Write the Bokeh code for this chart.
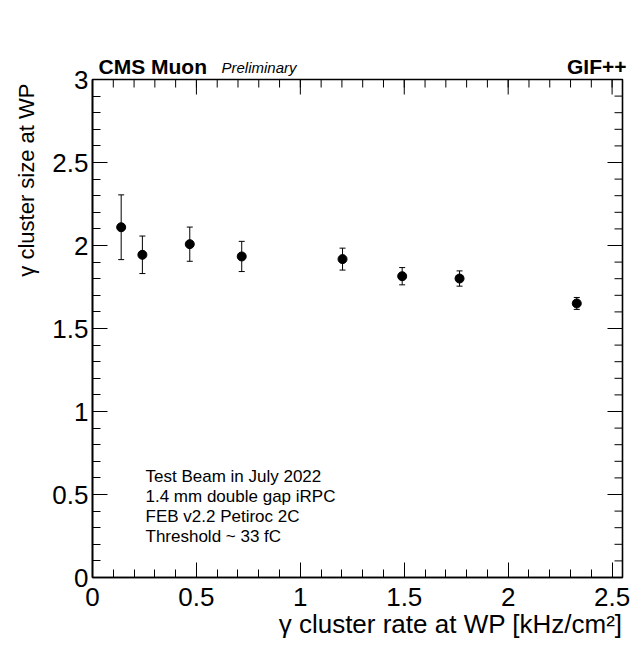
import numpy as np
from bokeh.plotting import figure
from bokeh.models import (ColumnDataSource, Range1d, LinearAxis, FixedTicker,
                          Label, Title, Whisker, TeeHead)
from bokeh.embed import file_html
from bokeh.resources import INLINE

# ---- data ----
rate = [0.138, 0.240, 0.468, 0.718, 1.203, 1.490, 1.766, 2.330]
csize = [2.11, 1.944, 2.008, 1.934, 1.918, 1.815, 1.801, 1.651]
err = [0.195, 0.113, 0.103, 0.091, 0.066, 0.052, 0.046, 0.036]

x_ticks = [0, 0.5, 1, 1.5, 2, 2.5]
x_tick_labels = ["0", "0.5", "1", "1.5", "2", "2.5"]
y_ticks = [0, 0.5, 1, 1.5, 2, 2.5, 3]
y_tick_labels = ["0", "0.5", "1", "1.5", "2", "2.5", "3"]

info_lines = ["Test Beam in July 2022", "1.4 mm double gap iRPC",
              "FEB v2.2 Petiroc 2C", "Threshold ~ 33 fC"]

XMIN, XMAX = 0.0, 2.55
YMIN, YMAX = 0.0, 3.0

# ---- layout (pixels) ----
W, H = 635, 649
FL, FR, FT, FB = 92, 13, 79, 72
FW = W - FL - FR
FH = H - FT - FB
FONT = "Liberation Sans"
MAJ, MIN = 15, 8


def dx(px):  # canvas px -> data x
    return XMIN + (px - FL) / FW * (XMAX - XMIN)


def dy(py):  # canvas px -> data y
    return YMIN + (FT + FH - py) / FH * (YMAX - YMIN)


p = figure(width=W, height=H, output_backend="svg", toolbar_location=None,
           x_range=Range1d(XMIN, XMAX), y_range=Range1d(YMIN, YMAX),
           min_border_left=FL, min_border_right=FR,
           min_border_top=FT, min_border_bottom=FB,
           x_axis_location=None, y_axis_location=None)
p.background_fill_color = "white"
p.border_fill_color = "white"
p.outline_line_color = "black"
p.outline_line_width = 1.6
p.xgrid.visible = False
p.ygrid.visible = False

x_minor = [round(v, 2) for v in np.arange(0, 2.55, 0.1)]
y_minor = [round(v, 2) for v in np.arange(0, 3.01, 0.1)]


def style_axis(ax, standoff, overrides):
    ax.axis_line_color = "black"
    ax.axis_line_width = 1.6
    ax.major_tick_line_color = "black"
    ax.minor_tick_line_color = "black"
    ax.major_tick_line_width = 1
    ax.minor_tick_line_width = 1
    ax.major_tick_in = MAJ
    ax.major_tick_out = 0
    ax.minor_tick_in = MIN
    ax.minor_tick_out = 0
    ax.major_label_overrides = overrides
    ax.major_label_text_font = FONT
    ax.major_label_text_font_size = "26px"
    ax.major_label_text_color = "black"
    ax.major_label_standoff = standoff


xb = LinearAxis(ticker=FixedTicker(ticks=x_ticks, minor_ticks=x_minor))
style_axis(xb, 10, {t: l for t, l in zip(x_ticks, x_tick_labels)})
p.add_layout(xb, "below")
yl = LinearAxis(ticker=FixedTicker(ticks=y_ticks, minor_ticks=y_minor))
style_axis(yl, 4, {t: l for t, l in zip(y_ticks, y_tick_labels)})
p.add_layout(yl, "left")

# mirrored ticks on the top and right edges of the frame
ky = (YMAX - YMIN) / FH
kx = (XMAX - XMIN) / FW
for ticks, ln in ((x_ticks, MAJ), (x_minor, MIN)):
    p.segment(x0=ticks, x1=ticks, y0=[YMAX] * len(ticks),
              y1=[YMAX - ln * ky] * len(ticks), line_color="black", line_width=1)
for ticks, ln in ((y_ticks, MAJ), (y_minor, MIN)):
    p.segment(x0=[XMAX] * len(ticks), x1=[XMAX - ln * kx] * len(ticks),
              y0=ticks, y1=ticks, line_color="black", line_width=1)

src = ColumnDataSource(dict(x=rate, y=csize,
                            lo=[v - e for v, e in zip(csize, err)],
                            hi=[v + e for v, e in zip(csize, err)]))
wh = Whisker(source=src, base="x", lower="lo", upper="hi", dimension="height",
             line_color="black", line_width=1,
             lower_head=TeeHead(size=6, line_color="black", line_width=1),
             upper_head=TeeHead(size=6, line_color="black", line_width=1))
p.add_layout(wh)
p.scatter("x", "y", source=src, size=9, marker="circle",
          fill_color="black", line_color="black")

# ---- texts inside the frame ----
for i, line in enumerate(info_lines):
    p.add_layout(Label(x=dx(145), y=dy(475.5 + 20.3 * i), text=line,
                       text_font=FONT, text_font_size="17px",
                       text_baseline="middle", text_color="black"))

# ---- texts outside the frame (in side panels, so they are not clipped) ----
p.add_layout(Label(x=dx(98), y=dy(65.7), text="CMS Muon", text_font=FONT,
                   text_font_size="21px", text_font_style="bold",
                   text_baseline="middle", text_color="black"), "above")
p.add_layout(Label(x=dx(221), y=dy(67), text="Preliminary", text_font=FONT,
                   text_font_size="15px", text_font_style="italic",
                   text_baseline="middle", text_color="black"), "above")
p.add_layout(Label(x=dx(626), y=dy(66.2), text="GIF++", text_font=FONT,
                   text_font_size="21px", text_font_style="bold",
                   text_align="right", text_baseline="middle",
                   text_color="black"), "above")

p.add_layout(Label(x=dx(622), y=dy(623.2),
                   text="\u03b3 cluster rate at WP [kHz/cm\u00b2]",
                   text_font=FONT, text_font_size="26px",
                   text_align="right", text_baseline="middle",
                   text_color="black"), "below")

p.add_layout(Title(text="\u03b3 cluster size at WP", align="right", offset=4,
                   vertical_align="bottom", standoff=22,
                   text_font=FONT, text_font_size="22px",
                   text_font_style="normal", text_color="black"), "left")

open("out.html", "w").write(file_html(p, INLINE))
